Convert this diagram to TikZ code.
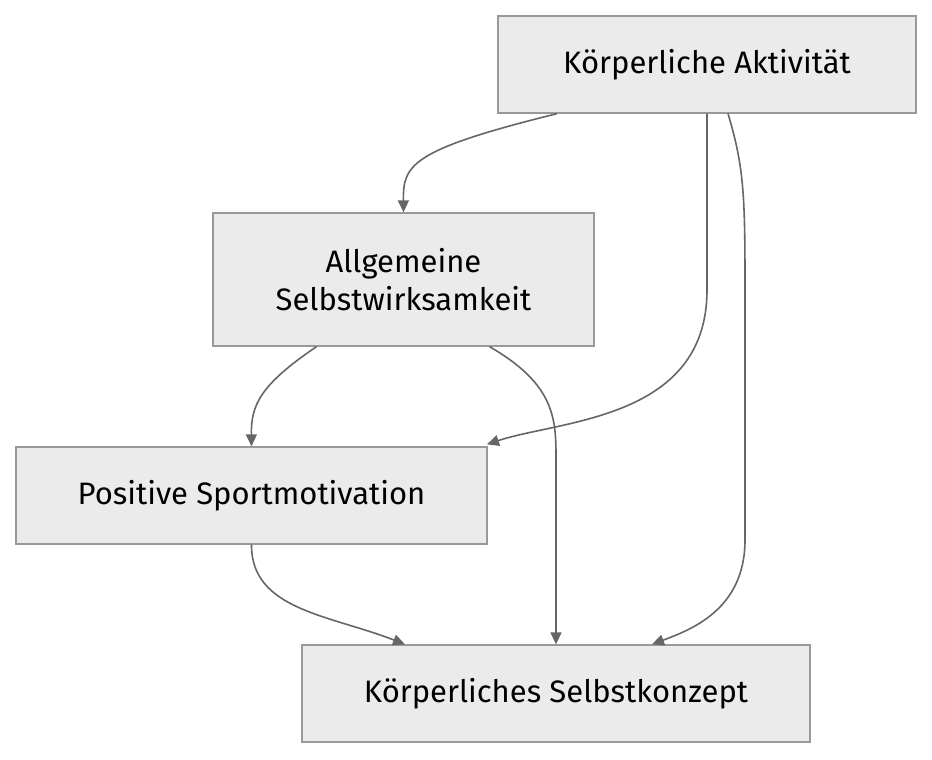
\documentclass[tikz,border=0pt]{standalone}
\usepackage{fontspec}
\setmainfont{Fira Sans}
\usetikzlibrary{arrows.meta}
\begin{document}
\begin{tikzpicture}[x=1pt,y=-1pt,
  box/.style={draw=black!40,fill=black!8,line width=1.3pt,inner sep=0pt,align=center,font=\fontsize{31}{38}\selectfont},
  edge/.style={draw=black!60,line width=1.6pt,-{Triangle[length=12pt,width=11pt]}}]
\useasboundingbox (0,0) rectangle (932,760);
\node[box,minimum width=418pt,minimum height=97pt] (ka) at (707,64.5) {Körperliche Aktivität};
\node[box,minimum width=381pt,minimum height=133pt] (as) at (403.5,279.5) {Allgemeine\\Selbstwirksamkeit};
\node[box,minimum width=471pt,minimum height=97pt] (ps) at (251.5,495.5) {Positive Sportmotivation};
\node[box,minimum width=508pt,minimum height=97pt] (ks) at (556,693.5) {Körperliches Selbstkonzept};
\draw[edge] ([xshift=-150pt]ka.south) .. controls (410,150) and (403,165) .. (as.north);
\draw[edge] (ka.south) -- (707,290) .. controls (707,420) and (560,420) .. ([xshift=235.5pt,yshift=2pt]ps.north);
\draw[edge] ([xshift=21pt]ka.south) .. controls (745,170) and (745,200) .. (745,300) -- (745,540) .. controls (745,610) and (690,630) .. ([xshift=96pt]ks.north);
\draw[edge] ([xshift=-87pt]as.south) .. controls (260,385) and (251,405) .. (ps.north);
\draw[edge] ([xshift=86pt]as.south) .. controls (556,385) and (556,420) .. (556,460) -- (ks.north);
\draw[edge] (ps.south) .. controls (251,610) and (330,615) .. ([xshift=-151pt]ks.north);
\end{tikzpicture}
\end{document}
